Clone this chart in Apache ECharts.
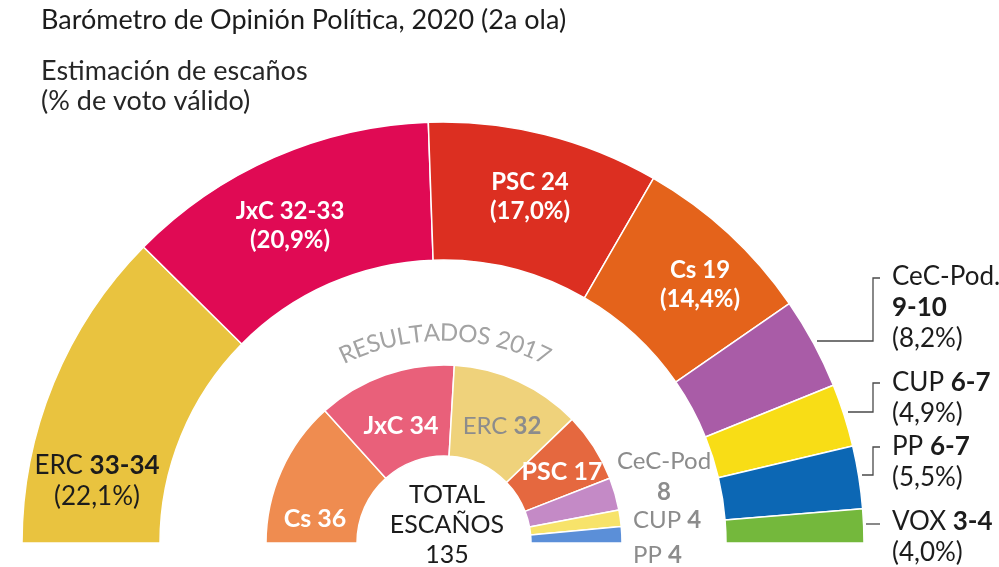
<!DOCTYPE html>
<html><head><meta charset="utf-8">
<script src="https://cdn.jsdelivr.net/npm/echarts@6/dist/echarts.min.js"></script>
<style>html,body{margin:0;padding:0;background:#fff}#c{width:999px;height:567px}</style>
</head><body><div id="c"></div>
<script>
// ---------- data ----------
const outerParties = ['ERC','JxC','PSC','Cs','CeC-Pod.','CUP','PP','VOX'];
const outerSeats = [33.5, 32.5, 24, 19, 9.5, 6.5, 6.5, 3.5];
const outerSeatLabels = ['33-34','32-33','24','19','9-10','6-7','6-7','3-4'];
const outerVoteLabels = ['22,1%','20,9%','17,0%','14,4%','8,2%','4,9%','5,5%','4,0%'];
const innerParties = ['Cs','JxC','ERC','PSC','CeC-Pod','CUP','PP'];
const innerSeats = [36, 34, 32, 17, 8, 4, 4];
const titleText = 'Barómetro de Opinión Política, 2020 (2a ola)';
const subtitleText = 'Estimación de escaños\n(% de voto válido)';
const innerTitle = 'RESULTADOS 2017';
const totalLabel = 'TOTAL\nESCAÑOS';

// ---------- style ----------
const FONT = 'Lato, "Noto Sans", sans-serif';
const outerColors = ['#e9c33f','#e00a54','#dc2f21','#e4631b','#a95ca7','#f8dd16','#0c67b4','#74b83c'];
const innerColors = ['#ef8c50','#e9607a','#efd27b','#e5683f','#c48ac6','#f7e36a','#5b8fd8'];
const DARK = '#1c1c1c', GRAY = '#8c8c8c';

const outerCenter = [443, 543], outerRadius = [283, 421];
const innerCenter = [444, 543], innerRadius = [87, 178];

const outerAnchors = {
  0: {x: 97, y: 481, align: 'center'},
  1: {x: 290, y: 226, align: 'center'},
  2: {x: 530, y: 197, align: 'center'},
  3: {x: 700, y: 285, align: 'center'},
  4: {x: 892, y: 308, align: 'left'},
  5: {x: 892, y: 398, align: 'left'},
  6: {x: 892, y: 462, align: 'left'},
  7: {x: 892, y: 537, align: 'left'}
};
const innerAnchors = {
  0: {x: 315, y: 519, align: 'center'},
  1: {x: 401, y: 426, align: 'center'},
  2: {x: 502, y: 426, align: 'center'},
  3: {x: 562, y: 472, align: 'center'},
  4: {x: 664, y: 477, align: 'center'},
  5: {x: 633, y: 520, align: 'left'},
  6: {x: 633, y: 555, align: 'left'}
};
const leaderLines = [
  [[817,341],[873,341],[873,278],[880,278]],
  [[848,412],[873,412],[873,383],[880,383]],
  [[862,475],[873,475],[873,447],[880,447]],
  [[866,524],[880,524]]
];

function outerFormatter(p) {
  const i = p.dataIndex;
  if (i >= 1 && i <= 3) return '{w|' + outerParties[i] + ' ' + outerSeatLabels[i] + '}\n{w|(' + outerVoteLabels[i] + ')}';
  if (i === 4) return '{n|' + outerParties[i] + '}\n{b|' + outerSeatLabels[i] + '}\n{n|(' + outerVoteLabels[i] + ')}';
  return '{n|' + outerParties[i] + ' }{b|' + outerSeatLabels[i] + '}\n{n|(' + outerVoteLabels[i] + ')}';
}
function innerFormatter(p) {
  const i = p.dataIndex;
  if (i === 0 || i === 1 || i === 3) return '{w|' + innerParties[i] + ' ' + innerSeats[i] + '}';
  if (i === 4) return '{g|' + innerParties[i] + '}\n{gb|' + innerSeats[i] + '}';
  return '{g|' + innerParties[i] + ' }{gb|' + innerSeats[i] + '}';
}

// ---------- curved text ----------
const measureCtx = document.createElement('canvas').getContext('2d');
function curvedText(text, cx, cy, r, a0, a1, fontSize, color) {
  measureCtx.font = fontSize + 'px Lato';
  const chars = text.split('');
  const widths = chars.map(c => measureCtx.measureText(c).width);
  const total = widths.reduce((s, w) => s + w, 0);
  const arcLen = r * (a0 - a1) * Math.PI / 180;
  const track = (arcLen - total) / (chars.length - 1);
  let s = 0;
  return chars.map((c, k) => {
    const mid = s + widths[k] / 2;
    s += widths[k] + track;
    const th = (a0 - (mid / r) * 180 / Math.PI) * Math.PI / 180;
    return {
      type: 'text',
      x: cx + r * Math.cos(th),
      y: cy - r * Math.sin(th),
      rotation: th - Math.PI / 2,
      style: {text: c, fill: color, font: fontSize + 'px ' + FONT, align: 'center', verticalAlign: 'middle'},
      silent: true
    };
  });
}

const graphics = [];
leaderLines.forEach(pts => graphics.push({
  type: 'polyline', shape: {points: pts}, silent: true,
  style: {stroke: '#4a4a4a', lineWidth: 1.3, fill: null}, z: 10
}));
graphics.push({
  type: 'text', x: 447, y: 525, silent: true,
  style: {text: totalLabel + '\n' + innerSeats.reduce((a, b) => a + b, 0), fill: DARK,
    font: '25px ' + FONT, lineHeight: 30, align: 'center', verticalAlign: 'middle'}
});
curvedText(innerTitle, 444, 565, 232, 116.5, 63, 24, '#a3a3a3').forEach(g => graphics.push(g));

const chart = echarts.init(document.getElementById('c'), null, {renderer: 'canvas'});
chart.setOption({
  animation: false,
  backgroundColor: '#fff',
  title: [
    {text: titleText, left: 36, top: 0,
      textStyle: {fontFamily: FONT, fontSize: 27, fontWeight: 'normal', color: DARK, lineHeight: 30}},
    {text: subtitleText, left: 36, top: 51,
      textStyle: {fontFamily: FONT, fontSize: 27, fontWeight: 'normal', color: '#262626', lineHeight: 30}}
  ],
  graphic: graphics,
  series: [
    {
      type: 'pie', name: 'Estimación',
      center: outerCenter, radius: outerRadius,
      startAngle: 180, endAngle: 0, clockwise: true,
      avoidLabelOverlap: false, silent: true,
      itemStyle: {borderColor: '#fff', borderWidth: 1.5},
      label: {
        show: true, position: 'inside', formatter: outerFormatter,
        rich: {
          w: {fontFamily: FONT, fontSize: 24, fontWeight: 'bold', color: '#fff', lineHeight: 29},
          n: {fontFamily: FONT, fontSize: 26, color: DARK, lineHeight: 31},
          b: {fontFamily: FONT, fontSize: 26, fontWeight: 'bold', color: DARK, lineHeight: 31}
        }
      },
      labelLine: {show: false},
      labelLayout: p => {
        const a = outerAnchors[p.dataIndex];
        return a ? {x: a.x, y: a.y, align: a.align, verticalAlign: 'middle'} : {};
      },
      data: outerParties.map((n, i) => ({name: n, value: outerSeats[i], itemStyle: {color: outerColors[i]}}))
    },
    {
      type: 'pie', name: 'Resultados 2017',
      center: innerCenter, radius: innerRadius,
      startAngle: 180, endAngle: 0, clockwise: true,
      avoidLabelOverlap: false, silent: true,
      itemStyle: {borderColor: '#fff', borderWidth: 1.5},
      label: {
        show: true, position: 'inside', formatter: innerFormatter,
        rich: {
          w: {fontFamily: FONT, fontSize: 25, fontWeight: 'bold', color: '#fff', lineHeight: 30},
          g: {fontFamily: FONT, fontSize: 24, color: GRAY, lineHeight: 31},
          gb: {fontFamily: FONT, fontSize: 24, fontWeight: 'bold', color: GRAY, lineHeight: 31}
        }
      },
      labelLine: {show: false},
      labelLayout: p => {
        const a = innerAnchors[p.dataIndex];
        return a ? {x: a.x, y: a.y, align: a.align, verticalAlign: 'middle'} : {};
      },
      data: innerParties.map((n, i) => ({name: n, value: innerSeats[i], itemStyle: {color: innerColors[i]}}))
    }
  ]
});
</script>
</body></html>
